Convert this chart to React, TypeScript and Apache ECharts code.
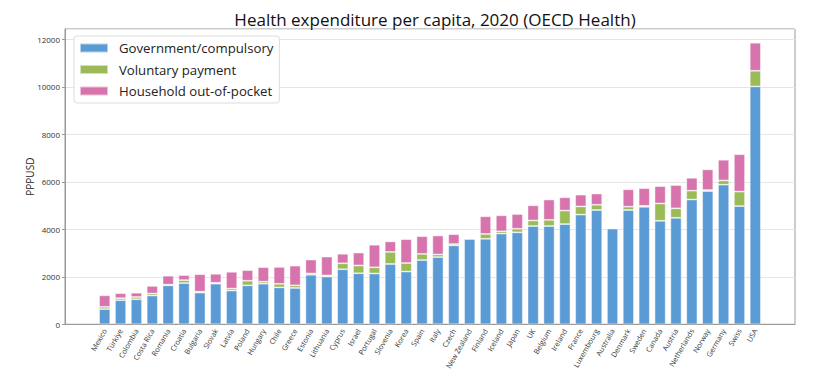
import React, { useEffect, useRef } from "react";
import * as echarts from "echarts";

const countries = [
  "Mexico", "Türkiye", "Colombia", "Costa Rica", "Romania", "Croatia", "Bulgaria", "Slovak",
  "Latvia", "Poland", "Hungary", "Chile", "Greece", "Estonia", "Lithuania", "Cyprus",
  "Israel", "Portugal", "Slovenia", "Korea", "Spain", "Italy", "Czech", "New Zealand",
  "Finland", "Iceland", "Japan", "UK", "Belgium", "Ireland", "France", "Luxembourg",
  "Australia", "Denmark", "Sweden", "Canada", "Austria", "Netherlands", "Norway", "Germany",
  "Swiss", "USA",
];

const government = [
  640, 1015, 1055, 1210, 1640, 1735, 1335, 1710,
  1420, 1640, 1710, 1555, 1530, 2085, 2010, 2320,
  2150, 2140, 2540, 2220, 2705, 2830, 3325, 3590,
  3600, 3820, 3875, 4140, 4140, 4220, 4620, 4815,
  4030, 4815, 4950, 4360, 4485, 5255, 5615, 5880,
  4980, 10020,
];

const voluntary = [
  95, 85, 95, 85, 30, 125, 40, 40,
  85, 195, 85, 150, 110, 55, 50, 250,
  330, 260, 510, 360, 260, 110, 55, 0,
  205, 95, 150, 235, 260, 570, 345, 220,
  0, 140, 40, 730, 400, 375, 40, 180,
  610, 660,
];

const household = [
  485, 210, 180, 320, 375, 210, 735, 375,
  705, 445, 610, 710, 830, 585, 790, 400,
  540, 950, 440, 1005, 745, 800, 415, 0,
  745, 675, 620, 635, 855, 560, 495, 470,
  0, 730, 745, 730, 980, 540, 870, 870,
  1575, 1180,
];

const seriesNames = ["Government/compulsory", "Voluntary payment", "Household out-of-pocket"];
const colors = ["#5b9bd5", "#9bbb59", "#d874ad"];

const PAD = 2;

export default function App() {
  const ref = useRef<HTMLDivElement>(null);

  useEffect(() => {
    if (!ref.current) return;
    const chart = echarts.init(ref.current, null, { renderer: "svg" });
    const padL = Array.from({ length: PAD }, (_, i) => " ".repeat(i + 1));
    const padR = Array.from({ length: PAD }, (_, i) => " ".repeat(i + 1 + PAD));
    const cats = [...padL, ...countries, ...padR];
    const padData = (arr: number[]) => [
      ...Array(PAD).fill(null),
      ...arr.map((v) => (v === 0 ? null : v)),
      ...Array(PAD).fill(null),
    ];
    const isReal = (i: number) => i >= PAD && i < PAD + countries.length;
    const font = "Open Sans";

    chart.setOption({
      animation: false,
      textStyle: { fontFamily: font },
      title: {
        text: "Health expenditure per capita, 2020 (OECD Health)",
        left: 430,
        top: 6,
        textAlign: "center",
        textStyle: { fontSize: 17, fontWeight: "normal", color: "#111", fontFamily: font },
      },
      legend: {
        orient: "vertical",
        left: 74,
        top: 36,
        padding: [5, 6, 5, 5],
        itemWidth: 28,
        itemHeight: 9,
        itemGap: 7.5,
        borderColor: "#dddddd",
        borderWidth: 1,
        borderRadius: 3,
        backgroundColor: "rgba(255,255,255,0.9)",
        icon: "rect",
        textStyle: {
          fontSize: 13.2,
          lineHeight: 14,
          color: "#222",
          fontFamily: font,
          padding: [0, 0, 0, 6],
        },
        data: seriesNames,
      },
      grid: {
        left: 65,
        right: 22,
        top: 29,
        bottom: 44,
        show: true,
        borderColor: "#999",
        borderWidth: 1,
      },
      xAxis: {
        type: "category",
        data: cats,
        boundaryGap: true,
        axisLine: { lineStyle: { color: "#999" } },
        axisTick: {
          alignWithLabel: true,
          length: 3,
          lineStyle: { color: "#999" },
          interval: (i: number) => isReal(i),
        },
        axisLabel: {
          rotate: 60,
          fontSize: 7.3,
          color: "#333",
          margin: 5,
          interval: (i: number) => isReal(i),
        },
      },
      yAxis: {
        type: "value",
        min: 0,
        max: 12440,
        interval: 2000,
        name: "PPPUSD",
        nameLocation: "middle",
        nameGap: 30,
        nameMoveOverlap: false,
        nameRotate: 90,
        nameTextStyle: { fontSize: 10, color: "#222" },
        axisLine: { show: true, lineStyle: { color: "#999" } },
        axisTick: { show: true, length: 3, lineStyle: { color: "#999" } },
        axisLabel: {
          fontSize: 8,
          color: "#333",
          margin: 5,
          showMaxLabel: false,
          formatter: (v: number) => (v % 2000 === 0 ? String(v) : ""),
        },
        splitLine: { lineStyle: { color: "#e6e6e6" } },
      },
      series: [government, voluntary, household].map((arr, k) => ({
        name: seriesNames[k],
        type: "bar",
        stack: "total",
        barWidth: "70%",
        data: padData(arr),
        itemStyle: {
          color: colors[k],
          borderColor: "rgba(255,255,255,0.55)",
          borderWidth: 0.8,
        },
      })),
    });
    return () => chart.dispose();
  }, []);

  return (
    <div
      ref={ref}
      style={{ position: "fixed", left: 0, top: 0, width: 817, height: 372, background: "#fff" }}
    />
  );
}
